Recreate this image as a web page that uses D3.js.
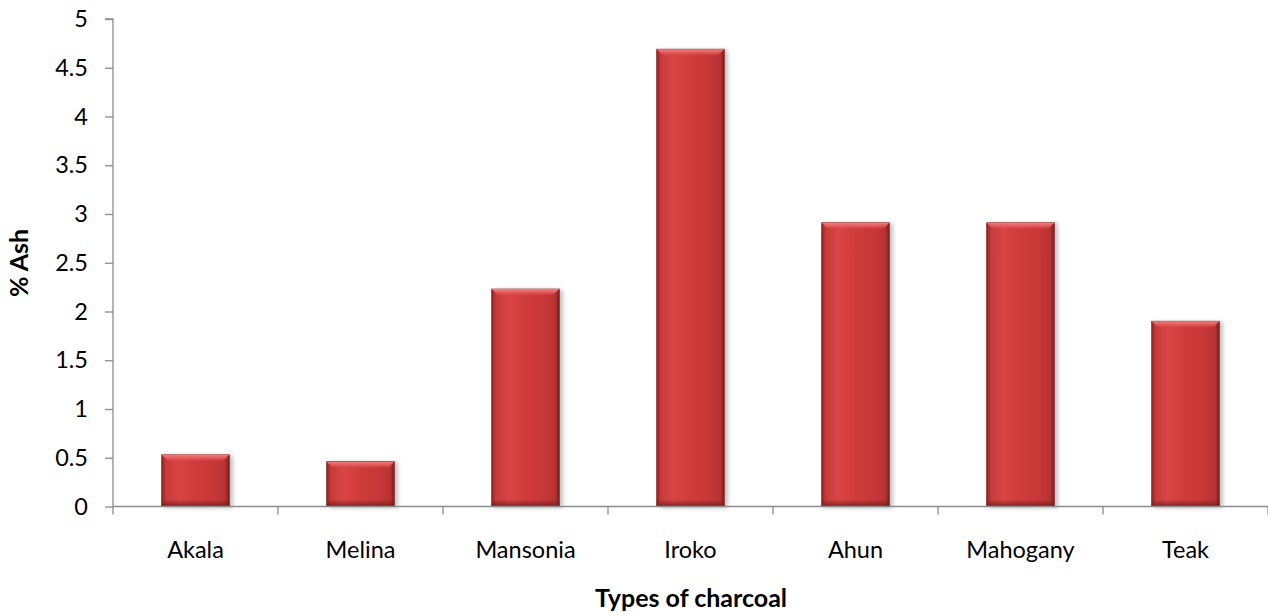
<!DOCTYPE html>
<html>
<head>
<meta charset="utf-8">
<script src="https://cdn.jsdelivr.net/npm/d3@7/dist/d3.min.js"></script>
<style>
  html, body { margin: 0; padding: 0; background: #fff; }
  svg { display: block; }
  text { font-family: Lato, "Open Sans", sans-serif; fill: #000; }
</style>
</head>
<body>
<svg id="chart" width="1268" height="616"></svg>
<script>
// Ash content by charcoal type
const categories = ["Akala", "Melina", "Mansonia", "Iroko", "Ahun", "Mahogany", "Teak"];
const ashValues = [0.53, 0.46, 2.23, 4.69, 2.91, 2.91, 1.90];
const yTicks = [0, 0.5, 1, 1.5, 2, 2.5, 3, 3.5, 4, 4.5, 5];

const svg = d3.select("#chart");
const margin = { left: 113, right: 0, top: 19, bottom: 109.5 };
const W = 1268, H = 616;
const FONT = "Lato, 'Open Sans', sans-serif";
const FS = "23.5px";
const FS_TITLE = "25px";

const x = d3.scaleBand()
  .domain(categories)
  .range([margin.left, W - margin.right])
  .paddingInner(0.59)
  .paddingOuter(0.295);

const y = d3.scaleLinear()
  .domain([0, 5])
  .range([H - margin.bottom, margin.top]);

// Gradients for the bevelled bar look
const defs = svg.append("defs");
const hg = defs.append("linearGradient").attr("id", "barBody")
  .attr("x1", "0").attr("x2", "1").attr("y1", "0").attr("y2", "0");
[[0, "#8e2424"], [0.06, "#c63a3a"], [0.25, "#d94545"], [0.5, "#cf3b3b"], [0.75, "#c93838"], [0.94, "#b83232"], [1, "#7a1e1e"]]
  .forEach(([o, c]) => hg.append("stop").attr("offset", o).attr("stop-color", c));

const topG = defs.append("linearGradient").attr("id", "barTop")
  .attr("x1", "0").attr("x2", "0").attr("y1", "0").attr("y2", "1");
[[0, "#f08080", 1], [0.5, "#e86060", 0.8], [1, "#d94545", 0]]
  .forEach(([o, c, a]) => topG.append("stop").attr("offset", o).attr("stop-color", c).attr("stop-opacity", a));

const botG = defs.append("linearGradient").attr("id", "barBottom")
  .attr("x1", "0").attr("x2", "0").attr("y1", "0").attr("y2", "1");
[[0, "#7a1e1e", 0], [1, "#6a1a1a", 0.85]]
  .forEach(([o, c, a]) => botG.append("stop").attr("offset", o).attr("stop-color", c).attr("stop-opacity", a));

const shadow = defs.append("filter").attr("id", "shadow")
  .attr("x", "-20%").attr("y", "-10%").attr("width", "140%").attr("height", "120%");
shadow.append("feGaussianBlur").attr("in", "SourceAlpha").attr("stdDeviation", 2);
shadow.append("feOffset").attr("dx", 3).attr("dy", 1).attr("result", "blur");
shadow.append("feComponentTransfer").append("feFuncA").attr("type", "linear").attr("slope", 0.25);
const merge = shadow.append("feMerge");
merge.append("feMergeNode");
merge.append("feMergeNode").attr("in", "SourceGraphic");

// Bars
const bars = svg.append("g").selectAll("g.bar")
  .data(categories.map((c, i) => ({ c, v: ashValues[i] })))
  .join("g").attr("class", "bar");

bars.append("rect")
  .attr("x", d => x(d.c))
  .attr("y", d => y(d.v))
  .attr("width", x.bandwidth())
  .attr("height", d => y(0) - y(d.v))
  .attr("fill", "url(#barBody)")
  .attr("stroke", "#8a2a2a")
  .attr("stroke-width", 0.8)
  .attr("filter", "url(#shadow)");

const bevel = 7;
bars.append("path")
  .attr("d", d => {
    const x0 = x(d.c), x1 = x0 + x.bandwidth(), y0 = y(d.v);
    return `M${x0},${y0}L${x1},${y0}L${x1 - bevel},${y0 + bevel}L${x0 + bevel},${y0 + bevel}Z`;
  })
  .attr("fill", "url(#barTop)");

bars.append("rect")
  .attr("x", d => x(d.c))
  .attr("y", y(0) - bevel)
  .attr("width", x.bandwidth())
  .attr("height", bevel)
  .attr("fill", "url(#barBottom)");

// Axes
const axisColor = "#8c8c8c";
const yAxis = svg.append("g")
  .attr("transform", `translate(${margin.left},0)`)
  .call(d3.axisLeft(y).tickValues(yTicks).tickSize(8).tickPadding(17).tickFormat(d3.format("")));
yAxis.attr("font-family", null).attr("font-size", null);
yAxis.select(".domain").attr("stroke", axisColor).attr("stroke-width", 1.3).attr("d", `M-8,${y(5)}H0V${y(0)}`);
yAxis.selectAll(".tick line").attr("stroke", axisColor).attr("stroke-width", 1.3);
yAxis.selectAll(".tick text")
  .style("font-size", FS).style("font-family", FONT).attr("fill", "#000");

const xAxis = svg.append("g")
  .attr("transform", `translate(0,${y(0)})`);
xAxis.append("line")
  .attr("x1", margin.left).attr("x2", W)
  .attr("stroke", axisColor).attr("stroke-width", 1.3);
const step = x.step();
const boundaries = d3.range(categories.length + 1).map(i => margin.left + i * step);
xAxis.selectAll("line.tick").data(boundaries).join("line")
  .attr("class", "tick")
  .attr("x1", d => d).attr("x2", d => d)
  .attr("y1", 0).attr("y2", 8)
  .attr("stroke", axisColor).attr("stroke-width", 1.3);
xAxis.selectAll("text").data(categories).join("text")
  .attr("x", d => x(d) + x.bandwidth() / 2)
  .attr("y", 51)
  .attr("text-anchor", "middle")
  .style("font-size", FS)
  .style("font-family", FONT)
  .text(d => d);

// Axis titles
svg.append("text")
  .attr("x", 691)
  .attr("y", 607)
  .attr("text-anchor", "middle")
  .style("font-size", FS_TITLE)
  .style("font-family", FONT)
  .style("font-weight", "bold")
  .text("Types of charcoal");

svg.append("text")
  .attr("transform", `translate(28,263) rotate(-90)`)
  .attr("text-anchor", "middle")
  .style("font-size", FS_TITLE)
  .style("font-family", FONT)
  .style("font-weight", "bold")
  .text("% Ash");
</script>
</body>
</html>
